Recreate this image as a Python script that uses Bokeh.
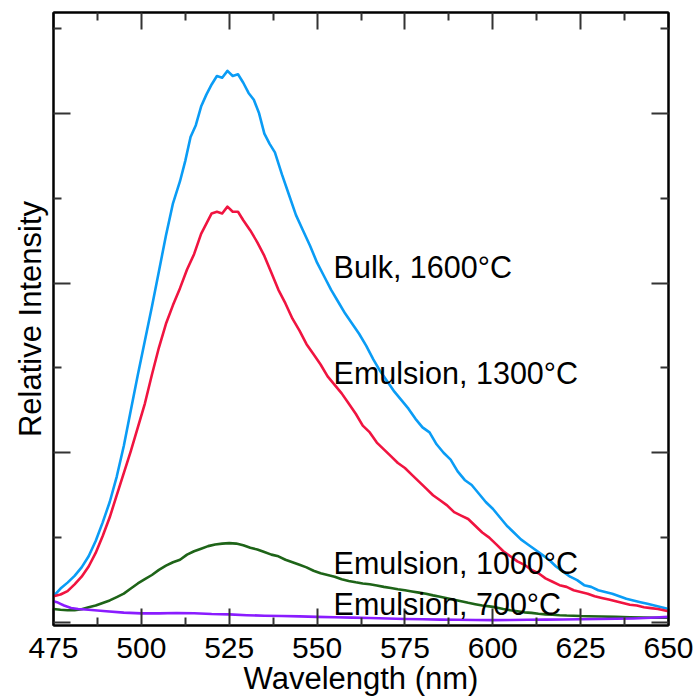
from bokeh.plotting import figure
from bokeh.models import (Range1d, FixedTicker, LinearAxis, Label, ColumnDataSource,
                          CustomLabelingPolicy)
from bokeh.embed import file_html
from bokeh.resources import INLINE

# Photoluminescence spectra (relative intensity vs wavelength)
wl_bulk = [475, 477, 479, 481, 483, 485, 487, 489, 491, 493, 495, 497, 499, 501, 503, 505,
           507, 509, 511, 512.5, 514, 515.5, 517, 518.5, 520, 521.5, 523, 524.5, 526, 527.5,
           529, 530.5, 532, 533.5, 535, 536.5, 538, 540, 542, 544, 546, 548, 550, 552, 554,
           556, 558, 560, 562, 564, 566, 568, 570, 572, 574, 576, 578, 580, 582, 584, 586,
           588, 590, 592, 594, 596, 598, 600, 602, 604, 606, 608, 610, 612, 614, 616, 618,
           620, 622, 624, 626, 628, 630, 632, 634, 636, 638, 640, 642, 644, 646, 648, 650]
int_bulk = [0.155, 0.20, 0.235, 0.275, 0.325, 0.39, 0.48, 0.59, 0.71, 0.86, 1.04, 1.25, 1.46,
            1.66, 1.86, 2.07, 2.28, 2.47, 2.60, 2.72, 2.86, 2.93, 3.04, 3.11, 3.17, 3.22,
            3.21, 3.25, 3.22, 3.23, 3.18, 3.12, 3.08, 3.00, 2.88, 2.82, 2.77, 2.64, 2.52,
            2.40, 2.31, 2.22, 2.12, 2.04, 1.96, 1.89, 1.82, 1.76, 1.70, 1.63, 1.55, 1.48,
            1.42, 1.36, 1.31, 1.26, 1.20, 1.15, 1.12, 1.05, 1.00, 0.96, 0.89, 0.84, 0.81,
            0.76, 0.71, 0.67, 0.62, 0.57, 0.53, 0.49, 0.46, 0.43, 0.40, 0.37, 0.33, 0.30,
            0.27, 0.25, 0.22, 0.21, 0.19, 0.18, 0.17, 0.155, 0.14, 0.13, 0.12, 0.11, 0.10,
            0.09, 0.08]

wl_e1300 = [475, 477, 479, 481, 483, 485, 487, 489, 491, 493, 495, 497, 499, 501, 503, 505,
            507, 509, 511, 513, 515, 517, 518.5, 520, 521.5, 523, 524.5, 526, 527.5, 529,
            531, 533, 535, 537, 539, 541, 543, 545, 547, 549, 551, 553, 555, 557, 559, 561,
            563, 565, 567, 569, 571, 573, 575, 577, 579, 581, 583, 585, 587, 589, 591, 593,
            595, 597, 599, 601, 603, 605, 607, 609, 611, 613, 615, 617, 619, 621, 623, 625,
            627, 629, 631, 633, 635, 637, 639, 641, 643, 645, 647, 650]
int_e1300 = [0.155, 0.165, 0.185, 0.225, 0.27, 0.33, 0.41, 0.51, 0.62, 0.75, 0.88, 1.01, 1.15,
             1.29, 1.46, 1.62, 1.76, 1.87, 1.97, 2.08, 2.17, 2.29, 2.35, 2.41, 2.42, 2.41,
             2.45, 2.42, 2.42, 2.37, 2.31, 2.24, 2.16, 2.06, 1.96, 1.88, 1.79, 1.72, 1.64,
             1.58, 1.52, 1.45, 1.40, 1.35, 1.29, 1.23, 1.16, 1.12, 1.06, 1.02, 0.98, 0.94,
             0.91, 0.87, 0.83, 0.79, 0.75, 0.72, 0.69, 0.65, 0.63, 0.61, 0.57, 0.53, 0.50,
             0.46, 0.42, 0.39, 0.36, 0.34, 0.31, 0.29, 0.26, 0.24, 0.22, 0.21, 0.19, 0.18,
             0.17, 0.155, 0.145, 0.135, 0.125, 0.115, 0.105, 0.10, 0.09, 0.085, 0.08, 0.066]

wl_e1000 = [475, 477, 479, 481, 483, 485, 487, 489, 491, 493, 495, 497, 499, 501, 503, 505,
            507, 509, 511, 513, 515, 517, 519, 521, 523, 525, 527, 529, 531, 533, 535, 537,
            539, 541, 543, 545, 547, 549, 551, 553, 555, 557, 559, 561, 563, 565, 567, 569,
            571, 573, 575, 577, 579, 581, 583, 585, 587, 589, 591, 593, 595, 597, 599, 601,
            603, 605, 607, 609, 611, 613, 615, 617, 619, 621, 623, 625, 627, 631, 635, 639,
            643, 647, 650]
int_e1000 = [0.08, 0.075, 0.072, 0.073, 0.078, 0.09, 0.10, 0.115, 0.13, 0.15, 0.17, 0.20,
             0.23, 0.255, 0.28, 0.31, 0.335, 0.355, 0.37, 0.40, 0.42, 0.435, 0.45, 0.46,
             0.465, 0.468, 0.465, 0.455, 0.44, 0.43, 0.415, 0.40, 0.39, 0.37, 0.355, 0.34,
             0.325, 0.305, 0.29, 0.28, 0.27, 0.255, 0.245, 0.237, 0.23, 0.225, 0.218, 0.21,
             0.203, 0.196, 0.19, 0.183, 0.176, 0.169, 0.16, 0.152, 0.143, 0.134, 0.125, 0.116,
             0.108, 0.10, 0.095, 0.089, 0.08, 0.072, 0.066, 0.06, 0.057, 0.052, 0.048, 0.046,
             0.043, 0.041, 0.04, 0.038, 0.037, 0.035, 0.033, 0.031, 0.029, 0.028, 0.028]

wl_e700 = [475, 476, 477, 478, 480, 482, 485, 490, 495, 500, 505, 510, 515, 520, 525, 530,
           535, 540, 545, 550, 555, 560, 565, 570, 575, 580, 585, 590, 595, 600, 605, 610,
           615, 620, 625, 630, 635, 640, 645, 650]
int_e700 = [0.125, 0.12, 0.11, 0.10, 0.086, 0.08, 0.075, 0.066, 0.058, 0.054, 0.054, 0.056,
            0.055, 0.05, 0.048, 0.043, 0.04, 0.038, 0.036, 0.033, 0.031, 0.029, 0.027, 0.024,
            0.021, 0.019, 0.017, 0.016, 0.015, 0.014, 0.015, 0.016, 0.017, 0.018, 0.019,
            0.021, 0.022, 0.024, 0.028, 0.033]

series_names = ["Bulk, 1600°C", "Emulsion, 1300°C", "Emulsion, 1000°C", "Emulsion, 700°C"]
series_colors = ["#0a9cf5", "#f01440", "#1e6418", "#8a1cff"]

x_ticks = [475, 500, 525, 550, 575, 600, 625, 650]
x_minor = [487.5, 512.5, 537.5, 562.5, 587.5, 612.5, 637.5]
y_ticks = [0, 1, 2, 3]
y_minor = [0.5, 1.5, 2.5, 3.5]

FONT = "Liberation Sans"

p = figure(width=699, height=698, output_backend="svg", toolbar_location=None,
           x_range=Range1d(475, 650), y_range=Range1d(-0.0176, 3.594),
           x_axis_location=None, y_axis_location=None,
           min_border_left=53, min_border_right=31, min_border_top=12, min_border_bottom=72)
p.grid.visible = False
p.outline_line_color = "black"
p.outline_line_width = 2
p.background_fill_color = "white"
p.border_fill_color = "white"


def style_axis(ax, ticks, minor):
    ax.ticker = FixedTicker(ticks=ticks, minor_ticks=minor)
    ax.axis_line_color = "black"
    ax.axis_line_width = 2
    ax.major_tick_in = 17
    ax.major_tick_out = 0
    ax.minor_tick_in = 8
    ax.minor_tick_out = 0
    ax.major_tick_line_color = "#333333"
    ax.major_tick_line_width = 2
    ax.minor_tick_line_color = "#333333"
    ax.minor_tick_line_width = 2


def tick_only(ax):
    # ticks without any tick labels
    ax.major_label_policy = CustomLabelingPolicy(code="return []")
    ax.major_label_text_font_size = "0px"
    ax.major_label_standoff = 0


bottom = LinearAxis(axis_label="Wavelength (nm)")
style_axis(bottom, x_ticks, x_minor)
bottom.major_label_text_font = FONT
bottom.major_label_text_font_size = "30px"
bottom.major_label_text_color = "black"
bottom.major_label_standoff = 12
bottom.axis_label_text_font = FONT
bottom.axis_label_text_font_size = "31px"
bottom.axis_label_text_font_style = "normal"
bottom.axis_label_text_color = "black"
bottom.axis_label_standoff = 0
p.add_layout(bottom, "below")

top = LinearAxis()
style_axis(top, x_ticks, x_minor)
tick_only(top)
p.add_layout(top, "above")

left = LinearAxis(axis_label="Relative Intensity")
style_axis(left, y_ticks, y_minor)
tick_only(left)
left.axis_label_text_font = FONT
left.axis_label_text_font_size = "31px"
left.axis_label_text_font_style = "normal"
left.axis_label_text_color = "black"
left.axis_label_standoff = 6
p.add_layout(left, "left")

right = LinearAxis()
style_axis(right, y_ticks, y_minor)
tick_only(right)
p.add_layout(right, "right")

spectra = [(wl_bulk, int_bulk), (wl_e1300, int_e1300), (wl_e1000, int_e1000), (wl_e700, int_e700)]
for (wl, inten), color in zip(spectra, series_colors):
    src = ColumnDataSource(dict(x=wl, y=inten))
    p.line("x", "y", source=src, line_color=color, line_width=2.6, line_join="round")

# Series annotations placed beside the curves
label_x = 554.7
label_y = [2.096, 1.472, 0.352, 0.11]
for name, ly in zip(series_names, label_y):
    p.add_layout(Label(x=label_x, y=ly, text=name, text_font=FONT, text_font_size="30.5px",
                       text_color="black", text_baseline="alphabetic", text_align="left"))

open("out.html", "w").write(file_html(p, INLINE))
